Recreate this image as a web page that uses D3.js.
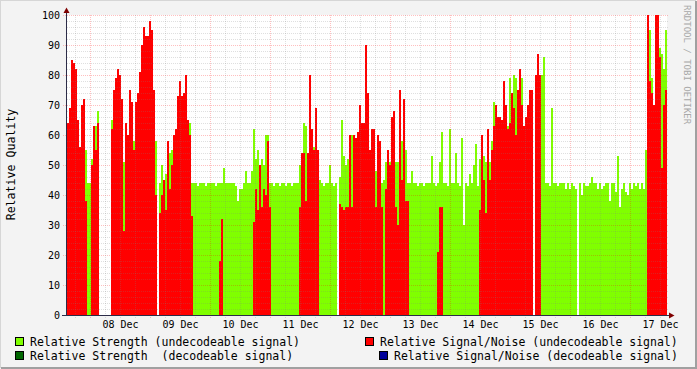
<!DOCTYPE html>
<html>
<head>
<meta charset="utf-8">
<script src="https://cdn.jsdelivr.net/npm/d3@7"></script>
<style>
body { margin: 0; background: #f3f3f3; }
text { font-family: "DejaVu Sans Mono", monospace; white-space: pre; }
</style>
</head>
<body>
<svg id="chart" width="697" height="369"></svg>
<script>
// days shown, each day split in 48 minute samples (Dec 7 starts at sample 18)
var days = [7, 8, 9, 10, 11, 12, 13, 14, 15, 16, 17];
var yTicks = [0, 10, 20, 30, 40, 50, 60, 70, 80, 90, 100];

// Relative Strength (undecodeable signal)
var str07 = [46, 44, 44, 44, 44, 44, 44, 44, 44, 55, 44, 44];
var str08 = [52, 56, 63, 68, null, null, null, null, null, null, 65, 44, 44, 44, 44, 44, 51, 44, 44, 44, 44, 58, 44, 44, 44, 44, 44, 44, 44, 44];
var str09 = [44, 44, 58, null, 44, 50, 44, 47, 55, 54, 55, 53, 44, 44, 44, 44, 44, 44, 57, 64, 44, 44, 44, 43, 44, 44, 44, 43, 44, 44];
var str10 = [44, 44, 43, 44, 44, 44, 49, 44, 44, 44, 44, 44, 43, 38, 42, 42, 44, 48, 44, 44, 48, 62, 52, 55, 50, 52, 50, 60, 60, 44];
var str11 = [44, 43, 44, 44, 43, 44, 44, 43, 44, 44, 43, 44, 44, 44, 50, 54, 64, 63, 54, 60, 56, 56, 44, 52, 45, 44, 43, 44, 44, 50];
var str12 = [44, 43, 44, null, 46, 65, 53, 50, 52, 44, 60, 58, 55, 55, 55, 44, 44, 44, 44, 50, 58, 55, 48, 50, 51, 44, 45, 51, 52, 51];
var str13 = [44, 44, 51, 51, 44, 58, 44, 55, 44, 44, 48, 44, 44, 43, 44, 44, 43, 44, 44, 44, 53, 44, 43, 44, 51, 61, 44, 44, 43, 62];
var str14 = [44, 44, 54, 44, 43, 59, 30, 44, 43, 47, 44, 50, 57, 43, 52, 55, 53, 51, 44, 51, 58, 71, 44, 44, 44, 44, 44, 44, 63, 79];
var str15 = [44, 80, 79, 60, 82, 79, 44, 44, 44, 44, 44, null, 44, 44, 57, 80, 86, 44, 44, 43, 69, 44, 44, 43, 44, 44, 44, 42, 44, 42];
var str16 = [44, 43, 42, null, 44, 40, 44, 43, 43, 44, 46, 44, 44, 42, 44, 42, 43, 44, 44, 38, 44, 44, 41, 53, 36, 42, 44, 41, 40, 44];
var str17 = [42, 44, 43, 44, 42, 44, 42, 55, 61, 95, 79, 66, 78, 78, 89, 87, 82, 95];

// Relative Signal/Noise (undecodeable signal)
var snr07 = [64, 69, 85, 84, 82, 65, 56, 70, 72, 38, 0, 0];
var snr08 = [50, 63, 55, 64, null, null, null, null, null, null, 62, 75, 79, 82, 80, 72, 28, 64, 60, 75, 71, 55, 71, 74, 81, 90, 96, 93, 93, 98];
var snr09 = [95, 75, 40, null, 34, 40, 45, 35, 58, 42, 50, 60, 62, 73, 78, 73, 74, 80, 65, 60, 33, 0, 0, 0, 0, 0, 0, 0, 0, 0];
var snr10 = [0, 0, 0, 0, 18, 32, 0, 0, 0, 0, 0, 0, 0, 0, 0, 0, 0, 0, 0, 0, 0, 31, 42, 35, 50, 36, 42, 40, 58, 36];
var snr11 = [0, 0, 0, 0, 0, 0, 0, 0, 0, 0, 0, 0, 0, 0, 36, 54, 54, 38, 54, 80, 62, 55, 69, 55, 0, 0, 0, 0, 0, 0];
var snr12 = [0, 0, 0, null, 37, 36, 35, 36, 36, 60, 36, 60, 59, 61, 70, 64, 64, 90, 74, 55, 62, 62, 36, 60, 58, 36, 0, 42, 55, 50];
var snr13 = [66, 68, 36, 30, 75, 45, 72, 38, 38, 0, 0, 0, 0, 0, 0, 0, 0, 0, 0, 0, 0, 0, 0, 21, 36, 36, 0, 0, 0, 0];
var snr14 = [0, 0, 0, 0, 0, 0, 0, 0, 0, 0, 0, 0, 0, 0, 35, 60, 45, 34, 62, 45, 55, 63, 70, 66, 66, 65, 78, 70, 62, 64];
var snr15 = [74, 69, 60, 75, 82, 70, 63, 66, 70, 75, 75, null, 80, 87, 80, 0, 0, 0, 0, 0, 0, 0, 0, 0, 0, 0, 0, 0, 0, 0];
var snr16 = [0, 0, 0, 0, 0, 0, 0, 0, 0, 0, 0, 0, 0, 0, 0, 0, 0, 0, 0, 0, 0, 0, 0, 0, 0, 0, 0, 0, 0, 0];
var snr17 = [0, 0, 0, 0, 0, 0, 0, 0, 100, 78, 74, 70, 100, 100, 86, 49, 70, 75];

var STEP = 48 * 60 * 1000;
var YEAR = 2012;

function toRows(dayArrays) {
	var out = [];
	dayArrays.forEach(function(vals, k) {
		var day = days[k];
		var first = (day == 7) ? 18 : 0;
		vals.forEach(function(v, i) {
			var t0 = Date.UTC(YEAR, 11, day) + (first + i) * STEP;
			out.push({t0: new Date(t0), t1: new Date(t0 + STEP), v: v});
		});
	});
	return out;
}

var series = [
	{color: "#80ff00", rows: toRows([str07, str08, str09, str10, str11, str12, str13, str14, str15, str16, str17])},
	{color: "#ff0000", rows: toRows([snr07, snr08, snr09, snr10, snr11, snr12, snr13, snr14, snr15, snr16, snr17])}
];

var legend = [
	{label: "Relative Strength (undecodeable signal)", color: "#80ff00", x: 15, y: 337},
	{label: "Relative Signal/Noise (undecodeable signal)", color: "#ff0000", x: 365, y: 337},
	{label: "Relative Strength  (decodeable signal)", color: "#006600", x: 15, y: 351},
	{label: "Relative Signal/Noise (decodeable signal)", color: "#000099", x: 379, y: 351}
];

var tStart = new Date(Date.UTC(YEAR, 11, 7, 14, 24));
var tEnd = new Date(Date.UTC(YEAR, 11, 17, 14, 24));

var x = d3.scaleUtc().domain([tStart, tEnd]).range([67, 667]);
var y = d3.scaleLinear().domain([0, 100]).range([315, 15]);

var svg = d3.select("#chart");

// frame
svg.append("rect").attr("width", 697).attr("height", 369).attr("fill", "#f3f3f3");
svg.append("path").attr("d", "M0,368 V0 H696").attr("fill", "none").attr("stroke", "#d6d6d6").attr("stroke-width", 2);
svg.append("path").attr("d", "M1,368 H696 V1").attr("fill", "none").attr("stroke", "#a0a0a0").attr("stroke-width", 2);

// canvas
svg.append("rect").attr("x", 67).attr("y", 15).attr("width", 600).attr("height", 300).attr("fill", "#fff");

// data columns
series.forEach(function(s) {
	svg.append("g")
		.attr("shape-rendering", "crispEdges")
		.selectAll("rect")
		.data(s.rows.filter(function(d) { return d.v != null && d.v > 0; }))
		.enter().append("rect")
		.attr("x", function(d) { return x(d.t0); })
		.attr("width", function(d) { return x(d.t1) - x(d.t0); })
		.attr("y", function(d) { return y(d.v); })
		.attr("height", function(d) { return y(0) - y(d.v); })
		.attr("fill", s.color);
});

// grid on top of the data
var grid = svg.append("g").attr("stroke-width", 1).attr("stroke-dasharray", "1,1");

d3.range(2, 101, 2).forEach(function(v) {
	var major = (v % 10 == 0);
	grid.append("line")
		.attr("x1", major ? 63 : 67).attr("x2", 669)
		.attr("y1", y(v) + 0.5).attr("y2", y(v) + 0.5)
		.attr("stroke", major ? "#ff0000" : "#808080")
		.attr("stroke-opacity", major ? 0.25 : 0.25);
});

d3.utcHour.every(6).range(tStart, tEnd).forEach(function(t) {
	var major = (t.getUTCHours() == 0);
	grid.append("line")
		.attr("x1", x(t) - 0.5).attr("x2", x(t) - 0.5)
		.attr("y1", 15).attr("y2", 318)
		.attr("stroke", major ? "#ff0000" : "#808080")
		.attr("stroke-opacity", major ? 0.25 : 0.25);
});

// axes
var axisColor = "#2c2c48";
svg.append("line").attr("x1", 66.5).attr("x2", 66.5).attr("y1", 316).attr("y2", 12).attr("stroke", axisColor);
svg.append("line").attr("x1", 62).attr("x2", 670).attr("y1", 315.5).attr("y2", 315.5).attr("stroke", axisColor);
svg.append("path").attr("d", "M63.5,13 L69.5,13 L66.5,7.5 Z").attr("fill", "#7f0000");
svg.append("path").attr("d", "M669,312.5 L669,318.5 L674.5,315.5 Z").attr("fill", "#7f0000");

// y labels
svg.append("g").selectAll("text")
	.data(yTicks)
	.enter().append("text")
	.attr("x", 60)
	.attr("y", function(d) { return y(d) + 3.5; })
	.attr("text-anchor", "end")
	.attr("font-size", "10px")
	.attr("fill", "#000")
	.text(function(d) { return d; });

// x labels, centred at noon
var fmt = d3.utcFormat("%d %b");
svg.append("g").selectAll("text")
	.data(d3.utcDay.range(new Date(Date.UTC(YEAR, 11, 8)), new Date(Date.UTC(YEAR, 11, 18))))
	.enter().append("text")
	.attr("x", function(d) { return x(d3.utcHour.offset(d, 12)) - 0.5; })
	.attr("y", 328)
	.attr("text-anchor", "middle")
	.attr("font-size", "10px")
	.attr("fill", "#000")
	.text(function(d) { return fmt(d); });

// axis title
svg.append("text")
	.attr("transform", "translate(15,164.5) rotate(-90)")
	.attr("text-anchor", "middle")
	.attr("font-size", "11.6px")
	.attr("fill", "#000")
	.text("Relative Quality");

// watermark
svg.append("text")
	.attr("transform", "translate(684,5) rotate(90)")
	.attr("font-size", "9px")
	.attr("fill", "#a8a8a8")
	.text("RRDTOOL / TOBI OETIKER");

// legend
var leg = svg.append("g").selectAll("g")
	.data(legend)
	.enter().append("g");
leg.append("rect")
	.attr("x", function(d) { return d.x + 0.5; })
	.attr("y", function(d) { return d.y + 0.5; })
	.attr("width", 8).attr("height", 8)
	.attr("fill", function(d) { return d.color; })
	.attr("stroke", "#000");
leg.append("text")
	.attr("x", function(d) { return d.x + 15; })
	.attr("y", function(d) { return d.y + 8.5; })
	.attr("font-size", "11.5px")
	.attr("fill", "#000")
	.text(function(d) { return d.label; });
</script>
</body>
</html>
